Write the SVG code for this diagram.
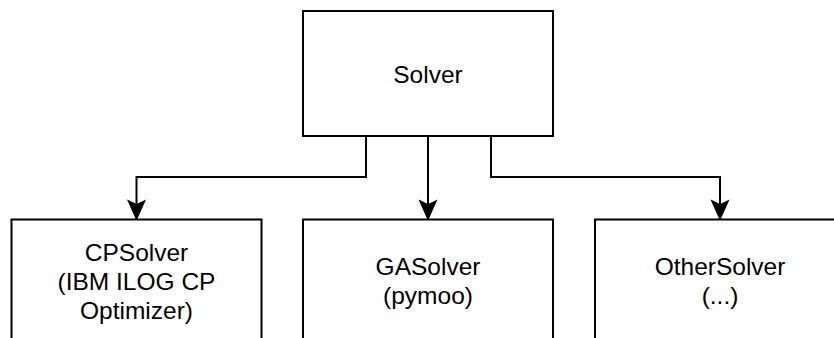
<svg xmlns="http://www.w3.org/2000/svg" width="834" height="338" viewBox="0 0 834 338">
<style>
.box{fill:#fff;stroke:#000;stroke-width:2}
.edge{fill:none;stroke:#000;stroke-width:2}
text{font-family:"Liberation Sans",Arial,sans-serif;font-size:24.5px;fill:#000;text-anchor:middle}
</style>
<defs>
<marker id="arr" markerUnits="userSpaceOnUse" markerWidth="20" markerHeight="22" refX="10" refY="20" orient="0" viewBox="0 0 20 22">
<path d="M2,2 L10,6 L18,2 L10,20 Z" fill="#000" stroke="#000" stroke-width="1.5" stroke-linejoin="miter"/>
</marker>
</defs>
<rect width="834" height="338" fill="#fff"/>
<g id="connectors">
<path class="edge" d="M366,136 V177 H136.5 V219" marker-end="url(#arr)"/>
<path class="edge" d="M428,136 V219" marker-end="url(#arr)"/>
<path class="edge" d="M491,136 V177 H720 V219" marker-end="url(#arr)"/>
</g>
<g id="solver">
<rect class="box" x="303" y="11" width="250" height="125"/>
<text x="428" y="82.5">Solver</text>
</g>
<g id="cpsolver">
<rect class="box" x="11.5" y="219.5" width="250" height="130"/>
<text x="136.5" y="261">CPSolver</text>
<text x="136.5" y="290">(IBM ILOG CP</text>
<text x="136.5" y="319">Optimizer)</text>
</g>
<g id="gasolver">
<rect class="box" x="303" y="219.5" width="250" height="130"/>
<text x="428" y="275">GASolver</text>
<text x="428" y="304">(pymoo)</text>
</g>
<g id="othersolver">
<rect class="box" x="595" y="219.5" width="250" height="130"/>
<text x="720" y="275">OtherSolver</text>
<text x="720" y="304">(...)</text>
</g>
</svg>
